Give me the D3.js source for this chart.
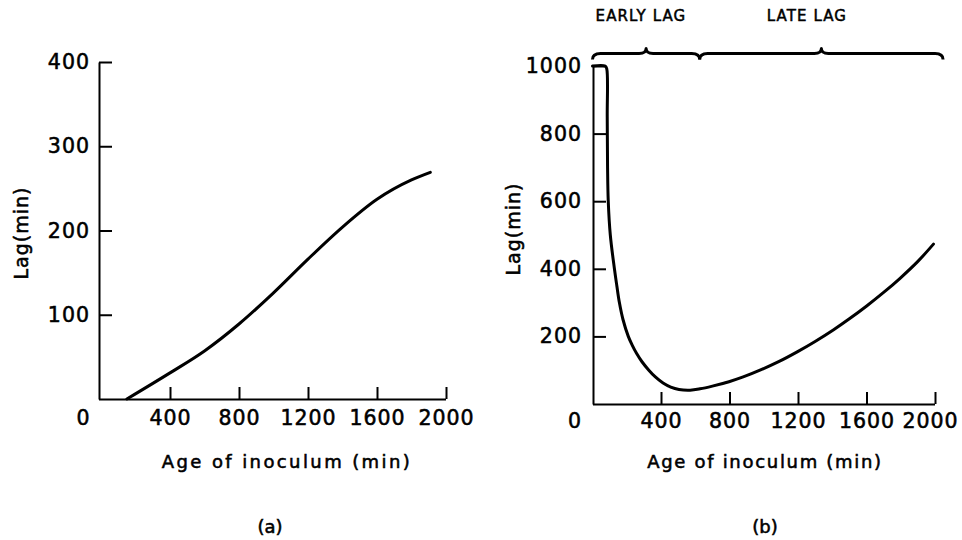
<!DOCTYPE html>
<html>
<head>
<meta charset="utf-8">
<script src="https://cdn.jsdelivr.net/npm/d3@7"></script>
<style>
  html, body { margin: 0; padding: 0; background: #fff; }
  svg { display: block; font-family: "DejaVu Sans", sans-serif; }
  svg text { fill: #000; stroke: #000; stroke-width: 0.55px; }
  .axis path, .axis line { stroke: #000; stroke-width: 2; }
  .axis text { font-family: "DejaVu Sans", sans-serif; font-size: 20.5px; letter-spacing: 1px; }
</style>
</head>
<body>
<svg id="chart" width="962" height="540"></svg>
<script>
// ---- data ----
const ageTicks = [400, 800, 1200, 1600, 2000];
const lagTicksA = [100, 200, 300, 400];
const lagTicksB = [200, 400, 600, 800, 1000];

// Panel (a): lag vs age of inoculum
const ageA = [150, 400, 600, 800, 1000, 1200, 1400, 1600, 1800, 1909];
const lagA = [0, 31, 57, 89, 126, 166, 204, 237, 260, 269];

// Panel (b): lag vs age of inoculum
const ageB = [0, 74, 83, 86, 88, 92, 104, 128, 142, 157, 178, 209, 231, 257, 289, 329, 367, 412, 457, 505, 570, 628, 700, 797, 880, 978, 1090, 1198, 1300, 1406, 1500, 1601, 1700, 1796, 1900, 1991];
const lagB = [1000, 1000, 992, 850, 700, 600, 500, 400, 350, 300, 250, 200, 175, 150, 125, 100, 80, 62, 50, 43, 41, 45, 53, 66, 80, 100, 126, 155, 185, 219, 252, 290, 330, 372, 422, 473];

// Phase braces above panel (b)
const phaseLabels = ["EARLY LAG", "LATE LAG"];
const phaseStart = [0, 626];
const phaseEnd = [626, 2047];
const phaseLabelAge = [283, 1252];

const xTitle = "Age of inoculum (min)";
const yTitle = "Lag(min)";
const panelLabels = ["(a)", "(b)"];

// ---- drawing ----
const svg = d3.select("#chart");

function drawPanel(cfg) {
  const x = d3.scaleLinear().domain([0, 2000]).range(cfg.xRange);
  const y = d3.scaleLinear().domain([0, cfg.yMax]).range(cfg.yRange);

  const gx = svg.append("g").attr("class", "axis")
    .attr("transform", `translate(0,${cfg.yRange[0]})`)
    .call(d3.axisBottom(x).tickValues(ageTicks).tickFormat(d3.format("d"))
      .tickSize(-12).tickSizeOuter(0).tickPadding(cfg.xPad));
  gx.select(".domain").attr("d", `M${cfg.yAxisX},0.5H${cfg.xRange[1]}`);
  gx.selectAll(".tick text").attr("dx", d => d === 2000 ? cfg.lastDx : 0);

  svg.append("g").attr("class", "axis")
    .attr("transform", `translate(${cfg.yAxisX},0)`)
    .call(d3.axisLeft(y).tickValues(cfg.lagTicks).tickFormat(d3.format("d"))
      .tickSize(-13).tickSizeOuter(0).tickPadding(cfg.yPad));

  // shared origin label
  svg.append("text")
    .attr("x", x(0) - 18).attr("y", cfg.yRange[0] + cfg.xPad)
    .attr("dy", "0.71em").attr("text-anchor", "middle")
    .style("font-size", "20.5px").text("0");

  const line = d3.line()
    .x((d, i) => x(cfg.ages[i]))
    .y((d, i) => y(cfg.lags[i]))
    .curve(cfg.curve);
  svg.append("path")
    .attr("d", line(cfg.ages))
    .attr("fill", "none").attr("stroke", "#000")
    .attr("stroke-width", 3).attr("stroke-linejoin", "round").attr("stroke-linecap", "round");

  // axis titles
  svg.append("text")
    .attr("x", cfg.xTitleX).attr("y", 468)
    .attr("text-anchor", "middle")
    .style("font-size", "18px").style("letter-spacing", cfg.titleLs + "px")
    .text(xTitle);
  svg.append("text")
    .attr("transform", `translate(${cfg.yTitleX},${cfg.yTitleY}) rotate(-90)`)
    .attr("text-anchor", "middle")
    .style("font-size", "19px").style("letter-spacing", "1px")
    .text(yTitle);
  svg.append("text")
    .attr("x", cfg.panelX).attr("y", 533)
    .attr("text-anchor", "middle")
    .style("font-size", "18px")
    .text(cfg.panelLabel);

  return { x, y };
}

drawPanel({
  xRange: [101, 446], yRange: [399, 62], yMax: 400, yAxisX: 99,
  lagTicks: lagTicksA, ages: ageA, lags: lagA, lastDx: 0, curve: d3.curveMonotoneX,
  xPad: 11, yPad: 9, xTitleX: 287, titleLs: 2.4,
  yTitleX: 28, yTitleY: 233, panelX: 270, panelLabel: panelLabels[0]
});

const b = drawPanel({
  xRange: [592.5, 935], yRange: [404, 66], yMax: 1000, yAxisX: 593,
  lagTicks: lagTicksB, ages: ageB, lags: lagB, lastDx: -5, curve: d3.curveCatmullRom.alpha(0.5),
  xPad: 9, yPad: 11, xTitleX: 765, titleLs: 1.7,
  yTitleX: 520, yTitleY: 229, panelX: 765, panelLabel: panelLabels[1]
});

// braces
const braceY = 53.5;
function bracePath(x1, x2, y) {
  const xm = (x1 + x2) / 2;
  return `M${x1},${y + 6} Q${x1},${y} ${x1 + 8},${y} L${xm - 7},${y} Q${xm},${y} ${xm},${y - 5}` +
         ` Q${xm},${y} ${xm + 7},${y} L${x2 - 8},${y} Q${x2},${y} ${x2},${y + 6}`;
}
phaseLabels.forEach((lab, i) => {
  svg.append("path")
    .attr("d", bracePath(b.x(phaseStart[i]), b.x(phaseEnd[i]), braceY))
    .attr("fill", "none").attr("stroke", "#000").attr("stroke-width", 3)
    .attr("stroke-linejoin", "round");
  svg.append("text")
    .attr("x", b.x(phaseLabelAge[i])).attr("y", 21)
    .attr("text-anchor", "middle")
    .style("font-size", "15px").style("letter-spacing", "1.1px")
    .style("stroke-width", "0.5px")
    .text(lab);
});
</script>
</body>
</html>
